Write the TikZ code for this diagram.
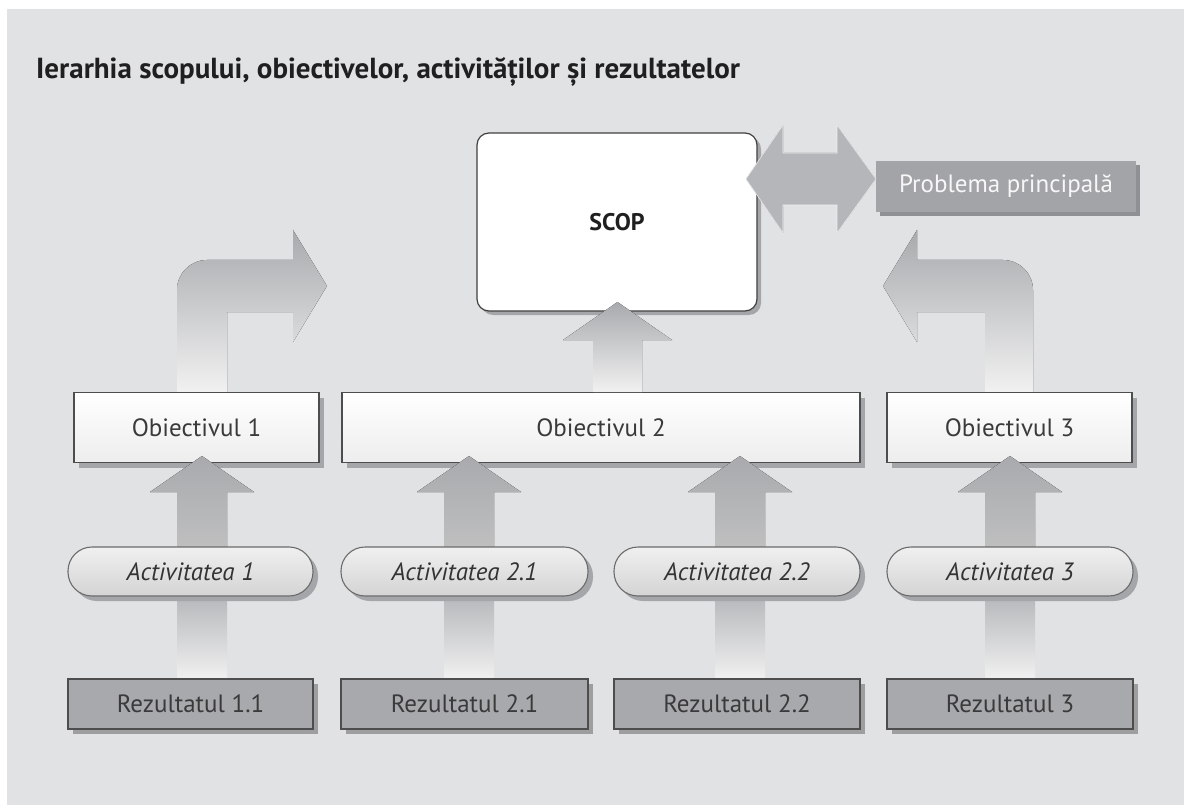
\documentclass[tikz,border=0pt]{standalone}
\usepackage{fontspec}
\setmainfont{PT Sans}
\usetikzlibrary{shadows}
\definecolor{bgc}{HTML}{E1E2E4}
\definecolor{arrc}{HTML}{A8AAAD}
\definecolor{arrmid}{HTML}{B2B4B7}
\definecolor{arrlight}{HTML}{F1F1F1}
\definecolor{dblc}{HTML}{B4B6B9}
\definecolor{edgec}{HTML}{4D4D4D}
\definecolor{shadc}{HTML}{A4A6A9}
\definecolor{resc}{HTML}{A7A9AC}
\definecolor{txtc}{HTML}{3A3A3A}
\definecolor{probc}{HTML}{A2A4A7}
\definecolor{probsh}{HTML}{8E9093}
\tikzset{
  boxfont/.style={font=\fontsize{25}{29}\selectfont},
  objbox/.style={boxfont, rectangle, draw=edgec, line width=1.3pt, top color=white, bottom color=black!7,
    minimum height=70pt, text=txtc, inner sep=0pt,
    drop shadow={shadow xshift=5pt, shadow yshift=-5pt, fill=shadc, opacity=1}},
  actbox/.style={rectangle, rounded corners=24pt, draw=black!58, line width=1.1pt, top color=black!6, bottom color=black!17,
    minimum height=49pt, text=black!80, inner sep=0pt, font=\fontsize{25}{29}\selectfont\itshape,
    drop shadow={shadow xshift=5pt, shadow yshift=-5pt, fill=shadc, opacity=1}},
  resbox/.style={boxfont, rectangle, draw=edgec, line width=1.4pt, fill=resc,
    minimum height=50pt, text=txtc, inner sep=0pt,
    drop shadow={shadow xshift=5pt, shadow yshift=-5pt, fill=black!38, opacity=1}},
  arrowup/.style={top color=arrc, bottom color=black!24},
  arrowlow/.style={top color=arrmid, bottom color=arrlight},
}
\newcommand\upa[2]{% center x, tip y
  \fill[arrowup] (#1,#2) -- (#1+52,#2+36) -- (#1+25,#2+36) -- (#1+25,560) -- (#1-25,560) -- (#1-25,#2+36) -- (#1-52,#2+36) -- cycle;
  \fill[arrowlow] (#1-25,590) rectangle (#1+25,680);
}
\begin{document}
\begin{tikzpicture}[x=1pt,y=-1pt]
\useasboundingbox (0,0) rectangle (1184,805);
\fill[white] (0,0) rectangle (1184,805);
\fill[bgc] (7,9) rectangle (1184,805);

\node[anchor=base west, inner sep=0pt, text=black!88, font=\bfseries\fontsize{29}{33}\selectfont] (title) at (36,79)
  {Ierarhia scopului, obiectivelor, activităților și rezultatelor};

% bent arrows
\fill[top color=arrc, middle color=arrmid, bottom color=arrlight]
  (177,392) -- (177,290) .. controls (177,273.4) and (190.4,260) .. (207,260) -- (293,260) -- (293,230) -- (327,286)
  -- (293,342) -- (293,312) -- (227,312) -- (227,392) -- cycle;
\fill[top color=arrc, middle color=arrmid, bottom color=arrlight]
  (1033,392) -- (1033,290) .. controls (1033,273.4) and (1019.6,260) .. (1003,260) -- (917,260) -- (917,230) -- (883,286)
  -- (917,342) -- (917,312) -- (985,312) -- (985,392) -- cycle;

% SCOP
\node[rectangle, rounded corners=12pt, draw=black!75, line width=1.2pt, fill=white, minimum width=280pt, minimum height=178pt,
  drop shadow={shadow xshift=4pt, shadow yshift=-4pt, fill=shadc, opacity=1},
  font=\bfseries\fontsize{24}{28}\selectfont, text=black!88] (scop) at (617,222) {SCOP};

% problema
\fill[probsh] (880,165) rectangle (1140,216);
\node[rectangle, fill=probc, minimum width=260pt, minimum height=51pt, inner sep=0pt, boxfont, text=black!3] (prob) at (1006,186.5) {Problema principală};

% double arrow
\fill[left color=dblc, middle color=arrlight, right color=dblc]
  (746,179) -- (783,125) -- (783,153) -- (837,153) -- (837,125) -- (876,179) -- (837,233) -- (837,205) -- (783,205) -- (783,233) -- cycle;
\draw[white!80!dblc, line width=0.6pt]
  (746,179) -- (783,125) -- (783,153) -- (837,153) -- (837,125) -- (876,179) -- (837,233) -- (837,205) -- (783,205) -- (783,233) -- cycle;

% objectives
\node[objbox, minimum width=245pt] (o1) at (196.5,427.5) {Obiectivul 1};
\node[objbox, minimum width=518pt] (o2) at (601,427.5) {Obiectivul 2};
\node[objbox, minimum width=245pt] (o3) at (1009.5,427.5) {Obiectivul 3};

% center arrow to SCOP
\fill[top color=arrc, middle color=arrmid, bottom color=arrlight]
  (617.5,302) -- (672,340) -- (642,340) -- (642,392) -- (593,392) -- (593,340) -- (563,340) -- cycle;

% up arrows
\upa{202}{456}
\upa{469}{456}
\upa{740}{456}
\upa{1010}{456}

% activities
\node[actbox, minimum width=245pt] (a1) at (190.5,571.5) {Activitatea 1};
\node[actbox, minimum width=247pt] (a21) at (464.5,571.5) {Activitatea 2.1};
\node[actbox, minimum width=246pt] (a22) at (737,571.5) {Activitatea 2.2};
\node[actbox, minimum width=246pt] (a3) at (1010,571.5) {Activitatea 3};

% results
\node[resbox, minimum width=245pt] (r1) at (190.5,704) {Rezultatul 1.1};
\node[resbox, minimum width=247pt] (r21) at (464.5,704) {Rezultatul 2.1};
\node[resbox, minimum width=246pt] (r22) at (737,704) {Rezultatul 2.2};
\node[resbox, minimum width=246pt] (r3) at (1010,704) {Rezultatul 3};
\end{tikzpicture}
\end{document}
